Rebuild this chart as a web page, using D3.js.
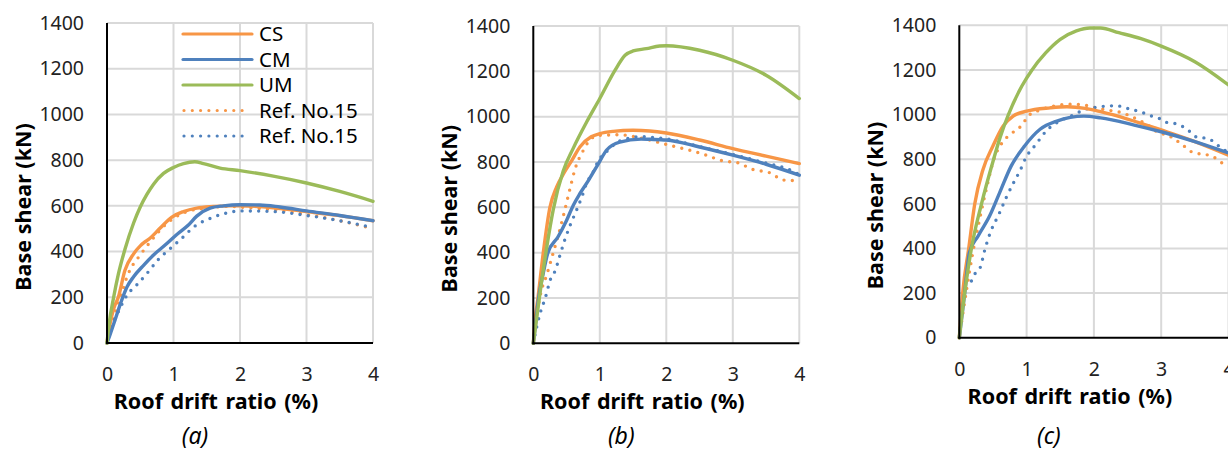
<!DOCTYPE html>
<html>
<head>
<meta charset="utf-8">
<script src="https://cdn.jsdelivr.net/npm/d3@7"></script>
<style>
  html, body { margin: 0; padding: 0; background: #fff; }
  svg { display: block; }
  text { font-family: "Noto Sans", "Open Sans", sans-serif; }
</style>
</head>
<body>
<svg id="chart" width="1228" height="453"></svg>
<script>
// ---- Pushover curves: base shear (kN) vs. roof drift ratio (%) ----

const xTicks = [0, 1, 2, 3, 4];
const yTicks = [0, 200, 400, 600, 800, 1000, 1200, 1400];
const seriesNames = ["CS", "CM", "UM", "Ref. No.15", "Ref. No.15"];
const panelCaptions = ["(a)", "(b)", "(c)"];

// Panel (a)
const aCsDrift = [0, 0.05, 0.1, 0.17, 0.27, 0.4, 0.5, 0.56, 0.62, 0.8, 0.97, 1.15, 1.35, 1.6, 1.8, 2.0, 2.5, 3.0, 3.5, 4.0];
const aCsShear = [0, 90, 150, 200, 318, 390, 425, 440, 452, 503, 550, 575, 590, 597, 600, 600, 592, 575, 557, 535];
const aCmDrift = [0, 0.05, 0.12, 0.2, 0.3, 0.4, 0.55, 0.7, 0.9, 1.05, 1.22, 1.35, 1.55, 1.75, 2.0, 2.3, 2.6, 3.0, 3.5, 4.0];
const aCmShear = [0, 40, 100, 170, 245, 290, 340, 385, 435, 475, 515, 555, 590, 600, 605, 604, 595, 578, 558, 535];
const aUmDrift = [0, 0.03, 0.1, 0.17, 0.27, 0.4, 0.5, 0.6, 0.7, 0.85, 1.0, 1.15, 1.32, 1.45, 1.7, 2.0, 2.5, 3.0, 3.5, 4.0];
const aUmShear = [0, 80, 200, 300, 410, 525, 595, 650, 695, 742, 768, 785, 793, 785, 765, 754, 730, 700, 663, 620];
const aRefCsDrift = [0, 0.05, 0.12, 0.22, 0.3, 0.4, 0.49, 0.57, 0.7, 0.85, 1.0, 1.2, 1.5, 1.85, 2.0, 2.5, 3.0, 3.5, 4.0];
const aRefCsShear = [0, 60, 130, 216, 289, 347, 381, 413, 460, 510, 545, 575, 590, 598, 595, 583, 562, 535, 500];
const aRefCmDrift = [0, 0.05, 0.1, 0.17, 0.3, 0.45, 0.62, 0.77, 0.95, 1.12, 1.32, 1.55, 1.8, 2.0, 2.5, 3.0, 3.5, 4.0];
const aRefCmShear = [0, 50, 92, 136, 209, 255, 311, 365, 413, 457, 511, 545, 569, 578, 575, 558, 535, 505];

// Panel (b)
const bCsDrift = [0, 0.03, 0.07, 0.15, 0.25, 0.35, 0.47, 0.58, 0.7, 0.87, 1.0, 1.2, 1.5, 1.75, 2.0, 2.5, 3.0, 3.5, 4.0];
const bCsShear = [0, 110, 200, 400, 600, 689, 756, 807, 866, 911, 925, 935, 940, 937, 928, 897, 859, 826, 793];
const bCmDrift = [0, 0.04, 0.08, 0.15, 0.22, 0.37, 0.5, 0.6, 0.7, 0.83, 0.98, 1.1, 1.3, 1.62, 1.75, 2.0, 2.5, 3.0, 3.5, 4.0];
const bCmShear = [0, 100, 200, 310, 400, 469, 542, 608, 660, 719, 793, 852, 888, 901, 900, 897, 866, 830, 790, 742];
const bUmDrift = [0, 0.1, 0.2, 0.3, 0.45, 0.6, 0.8, 1.0, 1.23, 1.38, 1.5, 1.7, 1.9, 2.0, 2.5, 3.0, 3.5, 4.0];
const bUmShear = [0, 220, 420, 590, 760, 860, 975, 1080, 1205, 1271, 1290, 1300, 1312, 1313, 1293, 1249, 1183, 1080];
const bRefCsDrift = [0, 0.05, 0.12, 0.2, 0.3, 0.37, 0.45, 0.55, 0.63, 0.75, 0.87, 1.0, 1.3, 1.55, 1.85, 2.1, 2.35, 2.6, 2.85, 3.07, 3.3, 3.55, 3.77, 3.9, 4.0];
const bRefCsShear = [0, 120, 230, 300, 400, 470, 560, 680, 771, 850, 903, 918, 920, 910, 889, 870, 852, 830, 805, 797, 767, 753, 720, 718, 722];
const bRefCmDrift = [0, 0.05, 0.1, 0.18, 0.26, 0.33, 0.4, 0.48, 0.56, 0.65, 0.73, 0.8, 0.9, 0.98, 1.1, 1.2, 1.3, 1.45, 1.6, 1.8, 2.0, 2.5, 3.0, 3.5, 3.8, 4.0];
const bRefCmShear = [0, 70, 130, 200, 284, 321, 388, 462, 525, 587, 646, 705, 756, 807, 845, 873, 893, 905, 912, 908, 902, 868, 833, 795, 772, 745];

// Panel (c)
const cCsDrift = [0, 0.05, 0.14, 0.23, 0.35, 0.5, 0.65, 0.8, 1.0, 1.35, 1.6, 1.87, 2.1, 2.5, 3.0, 3.5, 4.0];
const cCsShear = [0, 200, 400, 600, 752, 859, 948, 993, 1015, 1030, 1035, 1028, 1013, 980, 931, 879, 818];
const cCmDrift = [0, 0.04, 0.08, 0.15, 0.28, 0.45, 0.6, 0.77, 0.97, 1.2, 1.45, 1.85, 2.1, 2.6, 3.0, 3.5, 4.0];
const cCmShear = [0, 100, 200, 381, 456, 545, 650, 769, 859, 934, 971, 993, 985, 953, 923, 879, 828];
const cUmDrift = [0, 0.08, 0.18, 0.33, 0.51, 0.61, 0.73, 0.93, 1.08, 1.28, 1.5, 1.74, 1.94, 2.1, 2.37, 2.7, 3.0, 3.5, 4.0];
const cUmShear = [0, 200, 400, 600, 800, 901, 1000, 1128, 1200, 1275, 1337, 1375, 1388, 1388, 1367, 1340, 1307, 1237, 1133];
const cRefCsDrift = [0, 0.1, 0.2, 0.31, 0.41, 0.51, 0.63, 0.78, 0.91, 1.04, 1.2, 1.5, 1.65, 1.8, 2.0, 2.2, 2.37, 2.6, 2.85, 2.97, 3.08, 3.2, 3.32, 3.42, 3.53, 3.66, 3.77, 3.9, 4.0];
const cRefCsShear = [0, 200, 380, 542, 677, 796, 871, 916, 946, 998, 1020, 1043, 1046, 1045, 1032, 1020, 1012, 985, 943, 916, 910, 889, 864, 838, 826, 821, 811, 784, 766];
const cRefCmDrift = [0.18, 0.24, 0.31, 0.38, 0.45, 0.6, 0.7, 0.82, 0.9, 0.99, 1.14, 1.29, 1.54, 1.71, 1.84, 2.1, 2.22, 2.35, 2.47, 2.72, 2.85, 2.97, 3.08, 3.19, 3.32, 3.42, 3.52, 3.64, 3.74, 3.86, 3.97];
const cRefCmShear = [254, 290, 314, 395, 462, 561, 630, 702, 747, 807, 867, 926, 978, 1000, 1020, 1035, 1039, 1039, 1030, 1009, 994, 983, 965, 961, 946, 925, 900, 895, 886, 858, 835];

// ---- styling ----
const colors = { CS: "#F79646", CM: "#4F81BD", UM: "#9BBB59" };
const styles = [
  { color: colors.CS, dotted: false },
  { color: colors.CM, dotted: false },
  { color: colors.UM, dotted: false },
  { color: colors.CS, dotted: true },
  { color: colors.CM, dotted: true }
];

const zip = (xs, ys) => xs.map((x, i) => ({ x, y: ys[i] }));

const panels = [
  { box: { left: 107, right: 373, top: 23, bottom: 343 }, caption: panelCaptions[0], legend: true,
    series: [zip(aCsDrift, aCsShear), zip(aCmDrift, aCmShear), zip(aUmDrift, aUmShear), zip(aRefCsDrift, aRefCsShear), zip(aRefCmDrift, aRefCmShear)] },
  { box: { left: 533.3, right: 799.3, top: 26, bottom: 343.3 }, caption: panelCaptions[1], legend: false,
    series: [zip(bCsDrift, bCsShear), zip(bCmDrift, bCmShear), zip(bUmDrift, bUmShear), zip(bRefCsDrift, bRefCsShear), zip(bRefCmDrift, bRefCmShear)] },
  { box: { left: 959.3, right: 1228.5, top: 25.3, bottom: 337.7 }, caption: panelCaptions[2], legend: false,
    series: [zip(cCsDrift, cCsShear), zip(cCmDrift, cCmShear), zip(cUmDrift, cUmShear), zip(cRefCsDrift, cRefCsShear), zip(cRefCmDrift, cRefCmShear)] }
];

const svg = d3.select("#chart");
const FONT = 19.5;
const TITLE_FONT = 21.5;
const LEGEND_FONT = 20.5;

// draw order: reference dots beneath the solid model curves
const drawOrder = [3, 4, 0, 1, 2];

panels.forEach(p => {
  const b = p.box;
  const x = d3.scaleLinear().domain([0, 4]).range([b.left, b.right]);
  const y = d3.scaleLinear().domain([0, 1400]).range([b.bottom, b.top]);
  const g = svg.append("g");

  // gridlines
  g.append("g").selectAll("line").data(yTicks.filter(t => t > 0)).join("line")
    .attr("x1", b.left).attr("x2", b.right)
    .attr("y1", d => y(d)).attr("y2", d => y(d))
    .attr("stroke", "#d9d9d9").attr("stroke-width", 2);
  g.append("g").selectAll("line").data(xTicks.filter(t => t > 0)).join("line")
    .attr("x1", d => x(d)).attr("x2", d => x(d))
    .attr("y1", b.top).attr("y2", b.bottom)
    .attr("stroke", "#d9d9d9").attr("stroke-width", 2);

  // axes (tick labels only, lines drawn separately)
  const yAxis = g.append("g").attr("transform", `translate(${b.left},0)`)
    .call(d3.axisLeft(y).tickValues(yTicks).tickSize(0).tickPadding(23).tickFormat(d3.format("d")));
  const xAxis = g.append("g").attr("transform", `translate(0,${b.bottom})`)
    .call(d3.axisBottom(x).tickValues(xTicks).tickSize(0).tickPadding(24).tickFormat(d3.format("d")));
  [yAxis, xAxis].forEach(a => {
    a.select(".domain").remove();
    a.selectAll("text").attr("font-size", FONT).attr("fill", "#222")
      .style("font-family", '"Noto Sans", sans-serif');
  });

  // curves
  const line = d3.line().x(d => x(d.x)).y(d => y(d.y)).curve(d3.curveMonotoneX);
  drawOrder.forEach(i => {
    const st = styles[i];
    g.append("path").datum(p.series[i])
      .attr("d", line)
      .attr("fill", "none")
      .attr("stroke", st.color)
      .attr("stroke-width", 3.4)
      .attr("stroke-linecap", "round")
      .attr("stroke-linejoin", "round")
      .attr("stroke-dasharray", st.dotted ? "0 8.3" : null);
  });

  // axis lines
  g.append("line").attr("x1", b.left).attr("x2", b.left).attr("y1", b.top).attr("y2", b.bottom + 1)
    .attr("stroke", "#000").attr("stroke-width", 2);
  g.append("line").attr("x1", b.left - 1).attr("x2", b.right).attr("y1", b.bottom).attr("y2", b.bottom)
    .attr("stroke", "#000").attr("stroke-width", 2);

  // axis titles
  const cx = (b.left + b.right) / 2;
  g.append("text")
    .attr("x", cx - 24).attr("y", b.bottom + 66)
    .attr("text-anchor", "middle")
    .attr("font-size", TITLE_FONT).attr("font-weight", "bold").attr("fill", "#000")
    .attr("word-spacing", 2)
    .text("Roof drift ratio (%)");
  g.append("text")
    .attr("transform", `translate(${b.left - 76},${(b.top + b.bottom) / 2 + 24}) rotate(-90)`)
    .attr("text-anchor", "middle")
    .attr("font-size", TITLE_FONT).attr("font-weight", "bold").attr("fill", "#000")
    .text("Base shear (kN)");

  // caption
  g.append("text")
    .attr("x", cx - 45).attr("y", 444)
    .attr("text-anchor", "middle")
    .attr("font-size", 23).attr("font-style", "italic").attr("fill", "#000")
    .text(p.caption);

  // legend
  if (p.legend) {
    const lg = g.append("g");
    const rowY = i => 34 + i * 25.5;
    seriesNames.forEach((name, i) => {
      const st = styles[i];
      lg.append("line")
        .attr("x1", st.dotted ? 184 : 183).attr("x2", st.dotted ? 243 : 252)
        .attr("y1", rowY(i)).attr("y2", rowY(i))
        .attr("stroke", st.color).attr("stroke-width", 3.2)
        .attr("stroke-linecap", "round")
        .attr("stroke-dasharray", st.dotted ? "0 8.3" : null);
      lg.append("text")
        .attr("x", 259).attr("y", rowY(i)).attr("dy", "0.35em")
        .attr("font-size", LEGEND_FONT).attr("fill", "#000")
        .text(name);
    });
  }
});
</script>
</body>
</html>
